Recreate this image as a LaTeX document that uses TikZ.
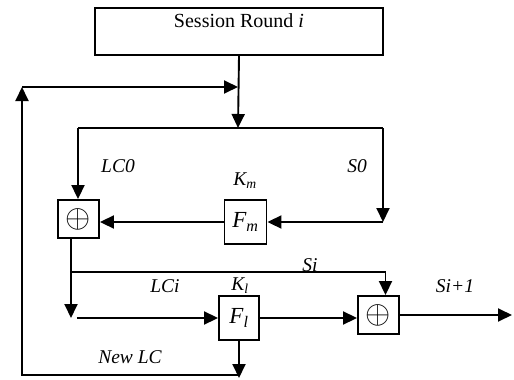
\documentclass[tikz,border=0pt]{standalone}
\usepackage{fontspec}
\setmainfont{Liberation Serif}
\usepackage{graphicx}
\usetikzlibrary{arrows.meta,positioning}

\begin{document}
\begin{tikzpicture}[x=1pt,y=-1pt,line width=1.9pt,
  >={Triangle[length=14pt,width=13pt]},
  box/.style={draw,inner sep=0pt},
  xorbox/.style={box,minimum width=41pt,minimum height=38pt,font=\fontsize{24}{24}\selectfont},
  fbox/.style={box,minimum width=42pt,minimum height=44pt,font=\fontsize{23}{23}\selectfont\itshape},
  lbl/.style={font=\fontsize{19.5}{19.5}\selectfont\itshape,inner sep=0pt}]
\useasboundingbox (0,0) rectangle (514,380);
% session box
\node[box,minimum width=288pt,minimum height=47pt] (sess) at (239,31.5) {};
\node[below=6pt of sess.north,inner sep=0pt,font=\fontsize{20}{20}\selectfont] (sesstxt) {Session Round \textit{i}};
% corner points
\coordinate (fb) at (22,87);
\coordinate (jn) at (238,87);
\coordinate (splitL) at (78,128);
\coordinate (splitR) at (383,128);
\coordinate (spmid) at (238,128);
\coordinate (sR) at (383,222);
\coordinate (lcd) at (71,318);
\coordinate (lcs) at (77,318);
\coordinate (sib) at (71,272);
\coordinate (nlc) at (237,378);
\coordinate (bl) at (22,375);
\coordinate (out) at (512,318);
% blocks
\node[xorbox] (xorA) at (78.5,219) {\scalebox{1.3}{$\oplus$}};
\node[fbox] (fm) at (245.5,222) {F\textsubscript{m}};
\node[fbox,minimum width=40pt] (fl) at (239,318) {F\textsubscript{l}};
\node[xorbox] (xorB) at (378.5,315) {\scalebox{1.3}{$\oplus$}};
% connectors
\draw[->] (sess.south) -- (spmid);
\draw (splitL) -- (splitR);
\draw[->] (splitL) -- (splitL |- xorA.north);
\draw[->] (splitR) -- (sR);
\draw[->] (sR) -- (fm.east);
\draw[->] (fm.west) -- (fm.west -| xorA.east);
\draw[->] (xorA.south -| lcd) -- (lcd);
\draw[->] (lcs) -- (fl.west);
\draw[->] (sib) -| ([xshift=7pt]xorB.north);
\draw[->] (fl.east) -- (fl.east -| xorB.west);
\draw[->] (xorB.east) -- (xorB.east -| out);
\draw[->] (fl.south) -- (fl.south |- nlc);
\draw[->] (fl.south |- bl) -- (bl) -- (fb);
\draw[->] (fb) -- (jn);
% labels
\node[lbl] (lc0) at (118,166) {LC0};
\node[lbl] (s0) at (357,166) {S0};
\node[lbl] (km) at (245,181) {K\textsubscript{m}};
\node[lbl] (si) at (310,265) {Si};
\node[lbl] (lci) at (165,286) {LCi};
\node[lbl] (kl) at (240,286) {K\textsubscript{l}};
\node[lbl] (si1) at (455,286) {Si+1};
\node[lbl] (newlc) at (130,357) {New LC};
\end{tikzpicture}
\end{document}
